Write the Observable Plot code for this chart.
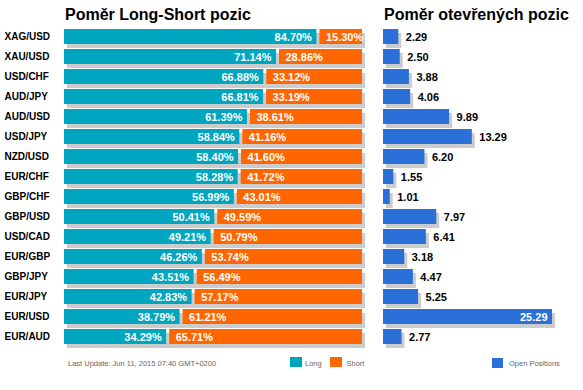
<!DOCTYPE html>
<html>
<head>
<meta charset="utf-8">
<script src="https://cdn.jsdelivr.net/npm/d3@7"></script>
<script src="https://cdn.jsdelivr.net/npm/@observablehq/plot@0.6"></script>
<style>
  html, body { margin: 0; padding: 0; background: #fff; }
  #wrap { position: relative; width: 583px; height: 390px; font-family: Arial, "Liberation Sans", sans-serif; overflow: hidden; }
  .abs { position: absolute; line-height: 1; white-space: nowrap; }
  .title { font-size: 16px; font-weight: bold; color: #000; }
  .small { font-size: 7.5px; color: #666; }
  .sw { position: absolute; }
</style>
</head>
<body>
<div id="wrap">
  <div class="abs title" style="left:65px; top:6.5px;">Poměr Long-Short pozic</div>
  <div class="abs title" style="left:384px; top:6.5px;">Poměr otevřených pozic</div>
  <div id="left" class="abs" style="left:0; top:0;"></div>
  <div id="right" class="abs" style="left:372px; top:0;"></div>
  <div class="abs small" style="left:68px; top:359.6px;">Last Update: Jun 11, 2015 07:40 GMT+0200</div>
  <div class="sw" style="left:290px; top:357px; width:12px; height:10px; background:#00A6BF;"></div>
  <div class="abs small" style="left:305px; top:359.6px;">Long</div>
  <div class="sw" style="left:330px; top:357px; width:12px; height:10px; background:#FF6600;"></div>
  <div class="abs small" style="left:346.5px; top:359.6px;">Short</div>
  <div class="sw" style="left:492px; top:357.5px; width:11px; height:10px; background:#2A70D8;"></div>
  <div class="abs small" style="left:509px; top:359.6px;">Open Positions</div>
</div>
<script>
const pairs = ["XAG/USD","XAU/USD","USD/CHF","AUD/JPY","AUD/USD","USD/JPY","NZD/USD","EUR/CHF","GBP/CHF","GBP/USD","USD/CAD","EUR/GBP","GBP/JPY","EUR/JPY","EUR/USD","EUR/AUD"];
const longPct = [84.70,71.14,66.88,66.81,61.39,58.84,58.40,58.28,56.99,50.41,49.21,46.26,43.51,42.83,38.79,34.29];
const shortPct = [15.30,28.86,33.12,33.19,38.61,41.16,41.60,41.72,43.01,49.59,50.79,53.74,56.49,57.17,61.21,65.71];
const openPos = [2.29,2.50,3.88,4.06,9.89,13.29,6.20,1.55,1.01,7.97,6.41,3.18,4.47,5.25,25.29,2.77];

const rows = pairs.map((p, i) => ({pair: p, long: longPct[i], short: shortPct[i], open: openPos[i]}));

const TEAL = "#00A6BF", ORANGE = "#FF6600", BLUE = "#2A70D8", SHADOW = "#CCCCCC";
const yScale = {domain: pairs, range: [26.5, 346.5], paddingInner: 0.25, paddingOuter: 0.125, axis: null};
const font = "Arial, 'Liberation Sans', sans-serif";

const left = Plot.plot({
  width: 372, height: 390,
  marginLeft: 0, marginRight: 0, marginTop: 0, marginBottom: 0,
  style: {fontFamily: font, background: "transparent", overflow: "visible"},
  x: {domain: [0, 100], range: [64, 362], axis: null},
  y: yScale,
  marks: [
    Plot.rect(rows, {y: "pair", x1: 0, x2: 100, fill: SHADOW, dx: 3, dy: 4}),
    Plot.rect(rows, {y: "pair", x1: 0, x2: "long", fill: TEAL}),
    Plot.rect(rows, {y: "pair", x1: "long", x2: 100, fill: ORANGE, insetLeft: 3}),
    Plot.text(rows, {y: "pair", x: "long", text: d => d.long.toFixed(2) + "%", textAnchor: "end", dx: -5, fill: "white", fontWeight: "bold", fontSize: 11}),
    Plot.text(rows, {y: "pair", x: "long", text: d => d.short.toFixed(2) + "%", textAnchor: "start", dx: 9, fill: "white", fontWeight: "bold", fontSize: 11}),
    Plot.text(rows, {y: "pair", text: "pair", frameAnchor: "left", textAnchor: "start", dx: 4, fill: "black", fontWeight: "bold", fontSize: 10})
  ]
});
document.getElementById("left").appendChild(left);

const right = Plot.plot({
  width: 211, height: 390,
  marginLeft: 0, marginRight: 0, marginTop: 0, marginBottom: 0,
  style: {fontFamily: font, background: "transparent", overflow: "visible"},
  x: {domain: [0, 25.29], range: [11, 180], axis: null},
  y: yScale,
  marks: [
    Plot.rect(rows, {y: "pair", x1: 0, x2: "open", fill: SHADOW, dx: 3, dy: 4}),
    Plot.rect(rows, {y: "pair", x1: 0, x2: "open", fill: BLUE}),
    Plot.text(rows.filter(d => d.open <= 20), {y: "pair", x: "open", text: d => d.open.toFixed(2), textAnchor: "start", dx: 7, fill: "black", fontWeight: "bold", fontSize: 11}),
    Plot.text(rows.filter(d => d.open > 20), {y: "pair", x: "open", text: d => d.open.toFixed(2), textAnchor: "end", dx: -5, fill: "white", fontWeight: "bold", fontSize: 11})
  ]
});
document.getElementById("right").appendChild(right);
</script>
</body>
</html>
